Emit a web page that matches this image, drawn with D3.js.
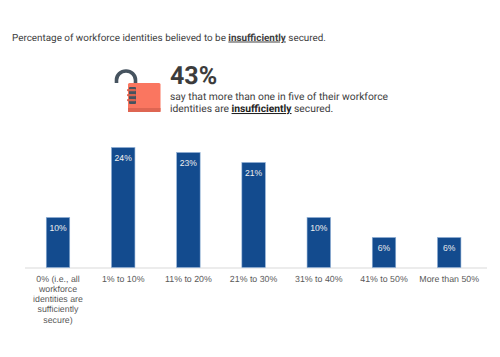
<!DOCTYPE html>
<html>
<head>
<meta charset="utf-8">
<script src="https://cdn.jsdelivr.net/npm/d3@7"></script>
<style>
  html, body { margin: 0; padding: 0; background: #fff; }
  svg { display: block; text-rendering: geometricPrecision; }
</style>
</head>
<body>
<svg id="chart"></svg>
<script>
// Chart values
const categories = ["0% (i.e., all workforce identities are sufficiently secure)", "1% to 10%", "11% to 20%", "21% to 30%", "31% to 40%", "41% to 50%", "More than 50%"];
const shares = [10, 24, 23, 21, 10, 6, 6];
const yMax = 24;

// Wrapped first label, one entry per line
const categoryLines = [["0% (i.e., all", "workforce", "identities are", "sufficiently", "secure)"]];

const width = 500;
const height = 357;
const svg = d3.select("#chart").attr("width", width).attr("height", height).attr("viewBox", `0 0 ${width} ${height}`);

const heading = "Roboto, sans-serif";
const arial = "Liberation Sans, Arial, sans-serif";

// Title line
const title = svg.append("text")
  .attr("x", 12).attr("y", 40.5)
  .attr("font-family", heading).attr("font-size", 9.9).attr("fill", "#404040");
title.append("tspan").text("Percentage of workforce identities believed to be ");
title.append("tspan").attr("font-weight", 700).attr("text-decoration", "underline").text("insufficiently");
title.append("tspan").text(" secured.");

// Padlock icon
const lock = svg.append("g");
lock.append("path")
  .attr("d", "M116.5 83 V80 A9.5 9 0 0 1 135.5 80 V84")
  .attr("fill", "none").attr("stroke", "#46535f").attr("stroke-width", 3.6);
lock.append("rect").attr("x", 128).attr("y", 83).attr("width", 32.5).attr("height", 29).attr("rx", 1.5).attr("fill", "#fa7660");
lock.append("rect").attr("x", 128).attr("y", 108).attr("width", 32.5).attr("height", 4).attr("fill", "#de6552");
lock.append("rect").attr("x", 129).attr("y", 87).attr("width", 7).attr("height", 17).attr("rx", 1).attr("fill", "#46535f");
[90, 95, 100].forEach((y) => {
  lock.append("rect").attr("x", 127).attr("y", y - 1).attr("width", 9).attr("height", 2.2).attr("rx", 1).attr("fill", "#d8624f");
});

// Callout text
svg.append("text").attr("x", 170).attr("y", 84)
  .attr("font-family", heading).attr("font-size", 25).attr("font-weight", 700).attr("fill", "#3c3c3c")
  .text("43%");
svg.append("text").attr("x", 170).attr("y", 100)
  .attr("font-family", heading).attr("font-size", 10.3).attr("fill", "#404040")
  .text("say that more than one in five of their workforce");
const callout = svg.append("text").attr("x", 170).attr("y", 112)
  .attr("font-family", heading).attr("font-size", 10.3).attr("fill", "#404040");
callout.append("tspan").text("identities are ");
callout.append("tspan").attr("font-weight", 700).attr("text-decoration", "underline").attr("fill", "#222").text("insufficiently");
callout.append("tspan").text(" secured.");

// Scales
const xScale = d3.scaleBand().domain(categories).range([25.4, 481.8]).paddingInner(0.64).paddingOuter(0.32);
const yScale = d3.scaleLinear().domain([0, yMax]).range([267.5, 147.5]);

// Baseline
svg.append("line")
  .attr("x1", 25).attr("x2", 487).attr("y1", 268).attr("y2", 268)
  .attr("stroke", "#e6e6e6").attr("stroke-width", 1.5);

// Bars
svg.selectAll("rect.bar")
  .data(shares)
  .enter()
  .append("rect")
  .attr("class", "bar")
  .attr("x", (d, i) => xScale(categories[i]))
  .attr("y", (d) => yScale(d))
  .attr("width", xScale.bandwidth())
  .attr("height", (d) => yScale(0) - yScale(d))
  .attr("fill", "#134b8e")
  .attr("stroke", "#8fb0d6")
  .attr("stroke-width", 0.6);

// Value labels
svg.selectAll("text.value")
  .data(shares)
  .enter()
  .append("text")
  .attr("class", "value")
  .attr("x", (d, i) => xScale(categories[i]) + xScale.bandwidth() / 2)
  .attr("y", (d) => yScale(d) + 13.3)
  .attr("text-anchor", "middle")
  .attr("font-family", arial).attr("font-size", 8.6).attr("fill", "#f0f0f0")
  .text((d) => `${d}%`);

// Category labels
categories.forEach((c, i) => {
  const lines = categoryLines[i] || [c];
  const label = svg.append("text")
    .attr("text-anchor", "middle")
    .attr("font-family", arial).attr("font-size", 8.8).attr("fill", "#595959");
  lines.forEach((l, j) => {
    label.append("tspan")
      .attr("x", xScale(c) + xScale.bandwidth() / 2)
      .attr("y", 281.5 + j * 10.3)
      .text(l);
  });
});
</script>
</body>
</html>
